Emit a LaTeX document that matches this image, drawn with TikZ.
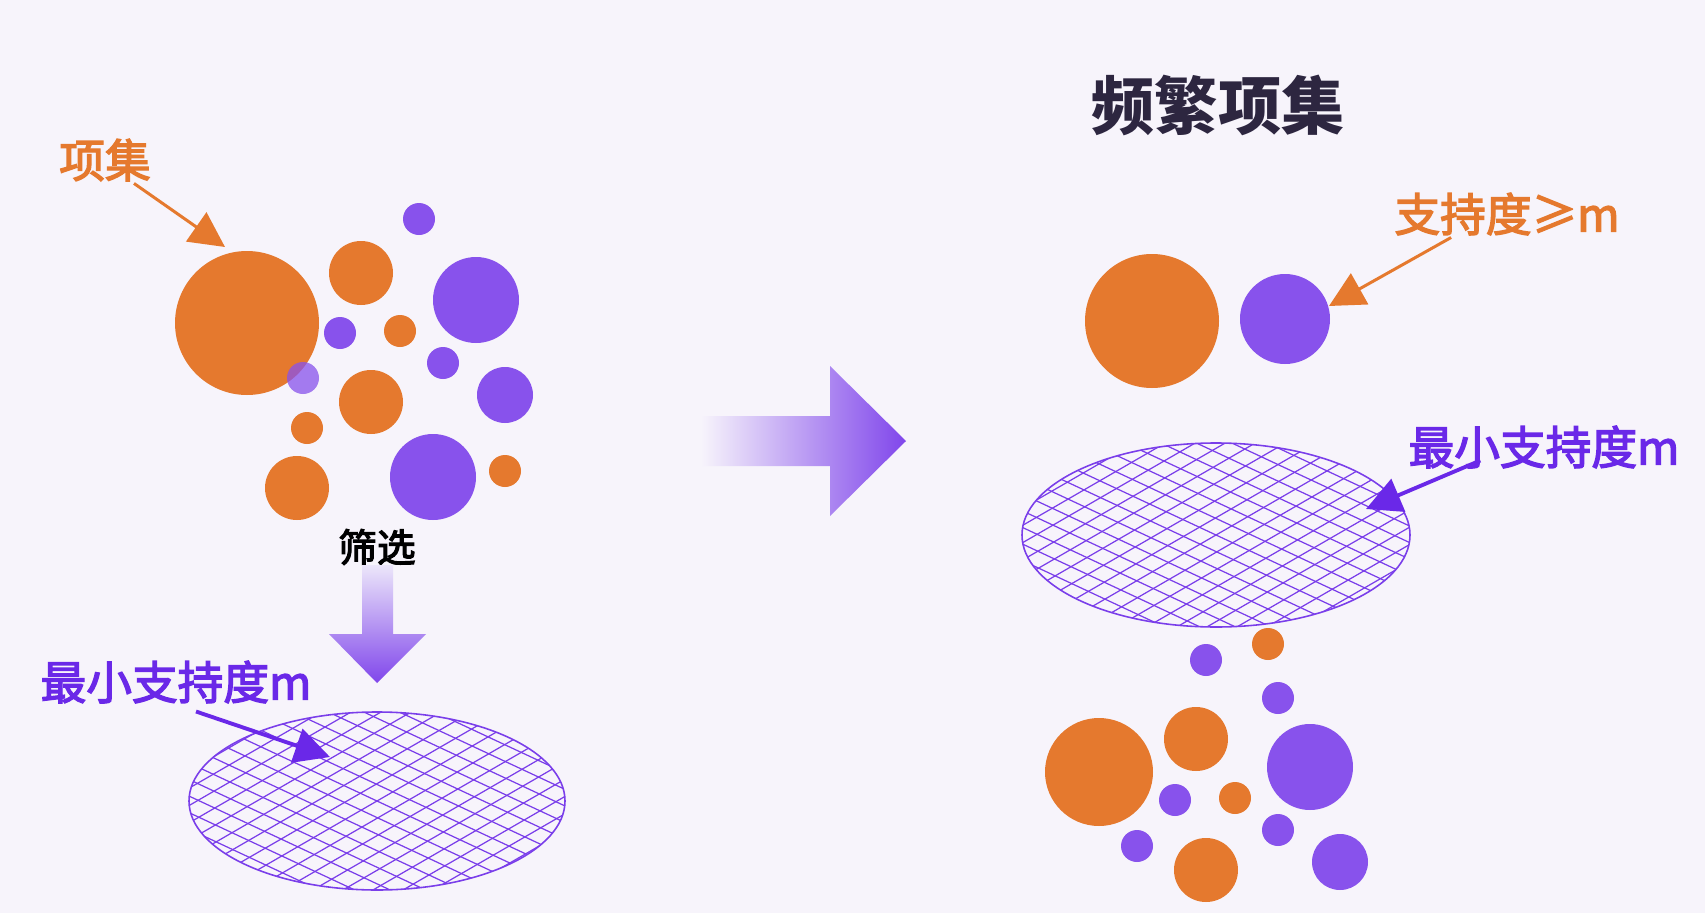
\documentclass[tikz,border=0pt]{standalone}
\usepackage{fontspec}
\setmainfont{Noto Sans CJK SC}
\newfontfamily\labfont[FakeBold=3]{Noto Sans CJK SC}
\usepackage{tikz}
\usetikzlibrary{arrows.meta,positioning,calc}
\definecolor{bgcol}     {RGB}{247,244,251}
\definecolor{itemorange}{RGB}{229,121,46}
\definecolor{itempurple}{RGB}{136,82,236}
\definecolor{labpurple} {RGB}{106,40,232}
\definecolor{netpurple} {RGB}{122,62,234}
\definecolor{titledark} {RGB}{45,38,64}
\definecolor{shaftlight}{RGB}{236,230,250}
\definecolor{tippurple} {RGB}{128,70,235}
\tikzset{
  obub/.style  ={circle, fill=itemorange, inner sep=0pt, minimum size=#1*0.02cm},
  pbub/.style  ={circle, fill=itempurple, inner sep=0pt, minimum size=#1*0.02cm},
  olab/.style  ={inner sep=0pt, text=itemorange, font=\labfont\fontsize{26}{30}\selectfont},
  plab/.style  ={inner sep=0pt, text=labpurple, font=\labfont\fontsize{26}{30}\selectfont},
  oarr/.style  ={-{Triangle[length=20pt,width=20pt]}, line width=1.7pt, draw=itemorange},
  parr/.style  ={-{Triangle[length=20pt,width=20pt]}, line width=2.2pt, draw=labpurple},
  netline/.style={draw=netpurple, line width=0.7pt},
  netrim/.style ={draw=netpurple, line width=0.9pt},
}

\begin{document}
\begin{tikzpicture}[x=0.02cm,y=-0.02cm]
  \fill[bgcol] (0,0) rectangle (1705,913);
  \useasboundingbox (0,0) rectangle (1705,913);

  %% left: item sets
  \node[olab] (lblitem) at (105,160) {项集};
  \node[obub=144] (o1) at (247,323) {};
  \node[pbub=32]  (p1) at (419,219) {};
  \node[obub=64]  (o2) at (361,273) {};
  \node[pbub=86]  (p2) at (476,300) {};
  \node[pbub=32]  (p3) at (340,333) {};
  \node[obub=32]  (o3) at (400,331) {};
  \node[pbub=32]  (p4) at (443,363) {};
  \node[pbub=32,fill opacity=0.75] (p5) at (303,378) {};
  \node[obub=64]  (o4) at (371,402) {};
  \node[pbub=56]  (p6) at (505,395) {};
  \node[obub=32]  (o5) at (307,428) {};
  \node[obub=64]  (o6) at (297,488) {};
  \node[pbub=86]  (p7) at (433,477) {};
  \node[obub=32]  (o7) at (505,471) {};
  \coordinate (tipitem) at (225,247);
  \draw[oarr] ($(lblitem.south)+(29,2)$) -- (tipitem);

  %% filter arrow
  \node[inner sep=0pt, font=\labfont\fontsize{22}{26}\selectfont] (filt) at (377,547) {筛选};
  \shade[top color=shaftlight, bottom color=tippurple]
    (362,565) -- (393,565) -- (393,634) -- (426,634) -- (377,683)
    -- (329,634) -- (362,634) -- cycle;

  %% left net
  \node[plab] (lblminL) at (176,682) {最小支持度m};
  \begin{scope}
    \clip (377,801) ellipse (188 and 89);
    \foreach \k in {-16,...,16}{
      \draw[netline] ($(377,801)+(\k*7.5,\k*13.0)+(-300*0.866,300*0.5)$) -- ++(600*0.866,-600*0.5);
      \draw[netline] ($(377,801)+(-\k*6.35,\k*13.6)+(-300*0.906,-300*0.423)$) -- ++(600*0.906,600*0.423);
    }
  \end{scope}
  \draw[netrim] (377,801) ellipse (188 and 89);
  \coordinate (tipminL) at (330,757);
  \draw[parr] ($(lblminL.south)+(20,8)$) -- (tipminL);

  %% big arrow
  \shade[left color=bgcol, right color=tippurple]
    (701,416) -- (830,416) -- (830,366) -- (906,441) -- (830,516)
    -- (830,466) -- (701,466) -- cycle;

  %% right: frequent item sets
  \node[inner sep=0pt, text=titledark, font=\fontsize{36}{40}\selectfont\bfseries] (title) at (1218,105) {频繁项集};
  \node[olab] (lblsup) at (1507,214) {支持度≥m};
  \node[obub=134] (fo1) at (1152,321) {};
  \node[pbub=90]  (fp1) at (1285,319) {};
  \coordinate (tipsup) at (1329,306);
  \draw[oarr] ($(lblsup.south west)+(57,2)$) -- (tipsup);

  %% right net
  \node[plab] (lblminR) at (1544,447) {最小支持度m};
  \begin{scope}
    \clip (1216,535) ellipse (194 and 92);
    \foreach \k in {-16,...,16}{
      \draw[netline] ($(1216,535)+(\k*7.5,\k*13.0)+(-300*0.866,300*0.5)$) -- ++(600*0.866,-600*0.5);
      \draw[netline] ($(1216,535)+(-\k*6.35,\k*13.6)+(-300*0.906,-300*0.423)$) -- ++(600*0.906,600*0.423);
    }
  \end{scope}
  \draw[netrim] (1216,535) ellipse (194 and 92);
  \coordinate (tipminR) at (1366,509);
  \draw[parr] ($(lblminR.south west)+(72,-8)$) -- (tipminR);

  %% items passing through
  \node[obub=32]  (ro1) at (1268,644) {};
  \node[pbub=32]  (rp1) at (1206,660) {};
  \node[pbub=32]  (rp2) at (1278,698) {};
  \node[obub=64]  (ro2) at (1196,739) {};
  \node[obub=108] (ro3) at (1099,772) {};
  \node[pbub=86]  (rp3) at (1310,767) {};
  \node[pbub=32]  (rp4) at (1175,800) {};
  \node[obub=32]  (ro4) at (1235,798) {};
  \node[pbub=32]  (rp5) at (1278,830) {};
  \node[pbub=32]  (rp6) at (1137,846) {};
  \node[obub=64]  (ro5) at (1206,870) {};
  \node[pbub=56]  (rp7) at (1340,862) {};
\end{tikzpicture}
\end{document}
